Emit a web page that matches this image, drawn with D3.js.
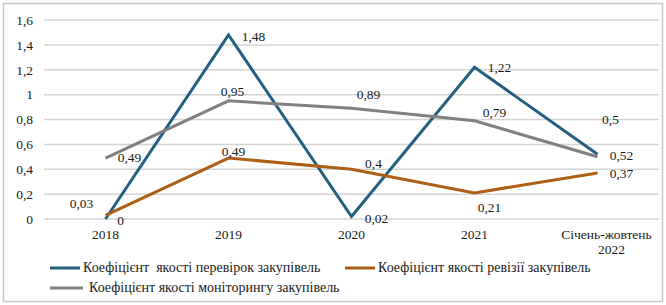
<!DOCTYPE html>
<html><head><meta charset="utf-8">
<script src="https://cdn.jsdelivr.net/npm/d3@7"></script>
</head><body style="margin:0;background:#fff"><svg id="c" width="666" height="305" style="display:block"></svg>
<script>
const categories = ["2018","2019","2020","2021","Січень-жовтень 2022"];
const yTicks = [0,0.2,0.4,0.6,0.8,1,1.2,1.4,1.6];
const seriesNames = ["Коефіцієнт  якості перевірок закупівель","Коефіцієнт якості ревізії закупівель","Коефіцієнт якості моніторингу закупівель"];
const checks = [0,1.48,0.02,1.22,0.52];
const revisions = [0.03,0.49,0.4,0.21,0.37];
const monitoring = [0.49,0.95,0.89,0.79,0.5];

// label offsets (styling only)
const labelOffsets = [
  [[15,6],[25,6],[25,6],[25,5],[24,6]],
  [[-24,-7],[5,-2],[22,-1],[15,19],[24,5]],
  [[24,4],[4,-5],[17,-9],[20,-4],[13,-33]]
];
const colors = ["#245f80","#ad5f15","#808080"];
const series = [checks, revisions, monitoring];
const styleText = (sel, size) => sel.attr("font-family","Liberation Serif").attr("font-size",size)
  .style("font-family","Liberation Serif").style("font-size",size+"px").style("fill","#1a1a1a");

const svg = d3.select("#c");
svg.append("rect").attr("x",3.5).attr("y",3.5).attr("width",659).attr("height",298)
  .attr("fill","none").attr("stroke","#c8c8c8").attr("stroke-width",1.5);

const x = d3.scaleBand().domain(categories).range([44,659]);
const y = d3.scaleLinear().domain([0,1.6]).range([219,20]);
const fmt = v => String(v).replace(".",",");

svg.append("g").selectAll("line").data(yTicks).join("line")
  .attr("x1",44).attr("x2",659).attr("y1",d=>y(d)).attr("y2",d=>y(d))
  .attr("stroke","#d4d4d4").attr("stroke-width",1.5);

const yAxis = d3.axisLeft(y).tickValues(yTicks).tickFormat(fmt).tickSize(0).tickPadding(0);
const ya = svg.append("g").attr("transform","translate(33,0)").call(yAxis);
ya.select(".domain").remove();
ya.attr("font-family","Liberation Serif");
styleText(ya.selectAll("text"),13.5);

const xAxis = d3.axisBottom(x).tickSize(0).tickPadding(0).tickFormat(()=> "");
const xa = svg.append("g").attr("transform","translate(0,226)").call(xAxis);
xa.select(".domain").remove();
xa.attr("font-family","Liberation Serif");
xa.selectAll(".tick").each(function(d){
  const t = d3.select(this).select("text").text(null).attr("dy",null).attr("y",13);
  styleText(t,13.5);
  const parts = d.split(" ");
  parts.forEach((p,i)=>t.append("tspan").attr("x", i>0?14:(parts.length>1?9:0)).attr("dy", i===0?0:15).text(p));
});

const line = d3.line().x((d,i)=>x(categories[i])+x.bandwidth()/2).y(d=>y(d));
series.forEach((s,k)=>{
  svg.append("path").datum(s).attr("d",line).attr("fill","none")
    .attr("stroke",colors[k]).attr("stroke-width",3).attr("stroke-linejoin","miter");
});
series.forEach((s,k)=>{
  const t = svg.append("g").selectAll("text").data(s).join("text")
    .attr("x",(d,i)=>x(categories[i])+x.bandwidth()/2+labelOffsets[k][i][0])
    .attr("y",(d,i)=>y(d)+labelOffsets[k][i][1])
    .attr("text-anchor","middle").text(fmt);
  styleText(t,13.5);
});

const legendPos = [[50,268],[345,268],[50,288]];
seriesNames.forEach((n,k)=>{
  const [lx,ly] = legendPos[k];
  svg.append("line").attr("x1",lx).attr("x2",lx+(k===2?33:30)).attr("y1",ly).attr("y2",ly)
    .attr("stroke",colors[k]).attr("stroke-width",3);
  const t = svg.append("text").attr("x",lx+(k===2?39:33)).attr("y",ly+4).text(n);
  styleText(t,14);
  t.style("white-space","pre");
});
</script></body></html>
